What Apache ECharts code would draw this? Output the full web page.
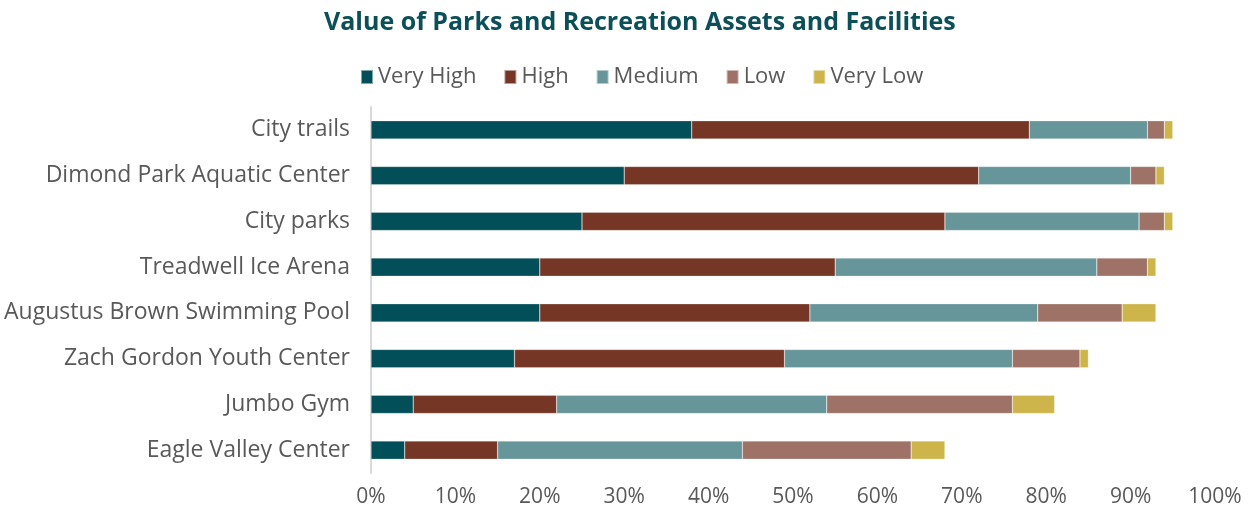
<!DOCTYPE html>
<html>
<head>
<meta charset="utf-8">
<script src="https://cdn.jsdelivr.net/npm/echarts@6/dist/echarts.min.js"></script>
<style>html,body{margin:0;padding:0;background:#fff}#c{width:1254px;height:514px}</style>
</head>
<body>
<div id="c"></div>
<script>
const categories = ["City trails","Dimond Park Aquatic Center","City parks","Treadwell Ice Arena","Augustus Brown Swimming Pool","Zach Gordon Youth Center","Jumbo Gym","Eagle Valley Center"];
const veryHigh = [38,30,25,20,20,17,5,4];
const high     = [40,42,43,35,32,32,17,11];
const medium   = [14,18,23,31,27,27,32,29];
const low      = [2,3,3,6,10,8,22,20];
const veryLow  = [1,1,1,1,4,1,5,4];
const seriesNames = ["Very High","High","Medium","Low","Very Low"];
const colors = ["#024F59","#763626","#66959A","#9E7266","#CDB54B"];
const xTicks = [0,10,20,30,40,50,60,70,80,90,100];

const data = [veryHigh, high, medium, low, veryLow];
const font = "'Open Sans', 'Noto Sans', sans-serif";
const chart = echarts.init(document.getElementById('c'), null, {renderer:'canvas'});
chart.setOption({
  animation:false,
  color: colors,
  title:{text:"Value of Parks and Recreation Assets and Facilities", left:319, top:5,
    textStyle:{color:'#0B4F58', fontFamily:font, fontWeight:'bold', fontSize:25}},
  legend:{top:61, left:355, itemWidth:12, itemHeight:14, itemGap:27, icon:'rect',
    textStyle:{color:'#595959', fontFamily:font, fontSize:22, padding:[0,0,0,0]},
    data: seriesNames},
  grid:{left:371, right:39, top:107, bottom:41, containLabel:false},
  xAxis:{type:'value', min:0, max:100, interval:10,
    axisLine:{show:false}, axisTick:{show:false}, splitLine:{show:false},
    axisLabel:{color:'#595959', fontFamily:font, fontSize:21, margin:14,
      formatter:v=> xTicks.includes(v) ? v + '%' : ''}},
  yAxis:{type:'category', data:categories, inverse:true,
    axisLine:{show:true, lineStyle:{color:'#D9D9D9', width:2}}, axisTick:{show:false},
    axisLabel:{color:'#595959', fontFamily:font, fontSize:23, margin:21}},
  series: seriesNames.map((n,i)=>({
    name:n, type:'bar', stack:'total', barWidth:'40%', data:data[i],
    itemStyle:{borderColor:'rgba(255,255,255,0.5)', borderWidth:0.5}
  }))
});
</script>
</body>
</html>
